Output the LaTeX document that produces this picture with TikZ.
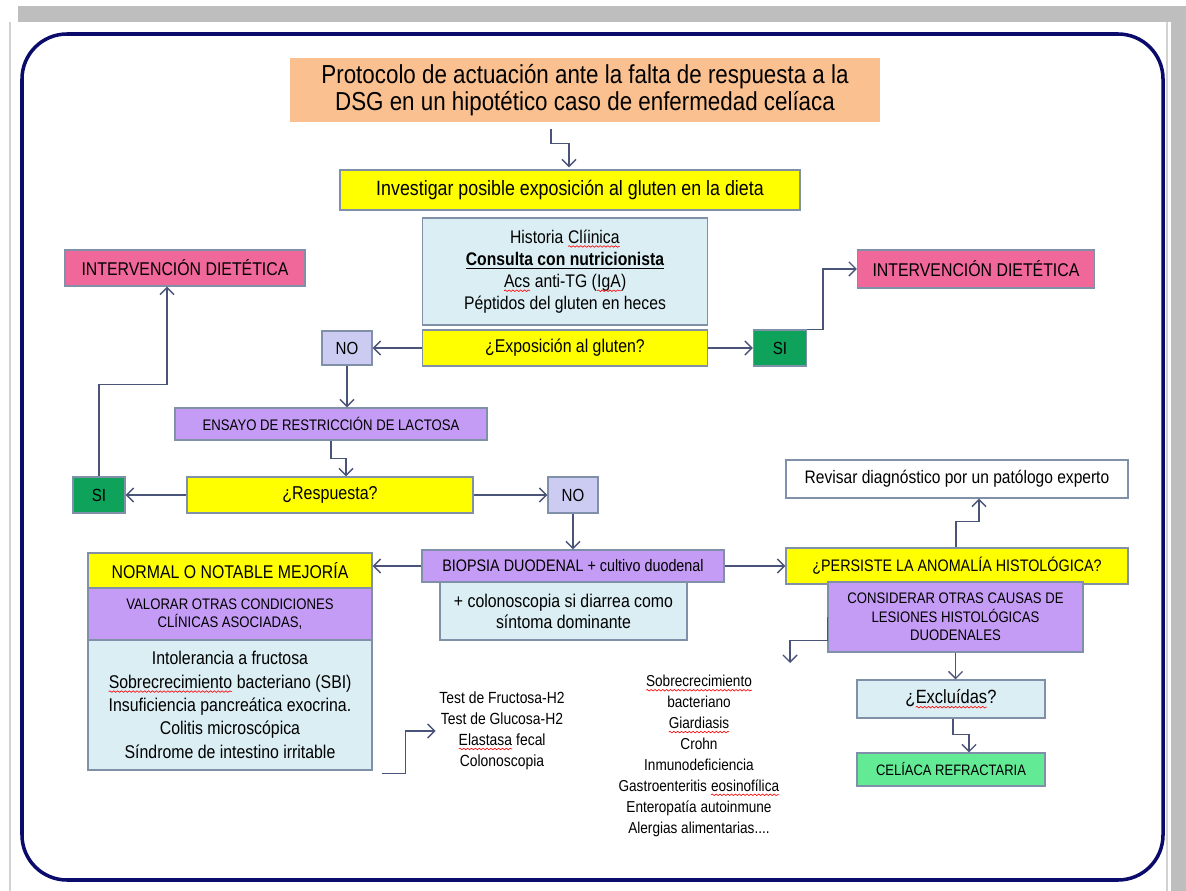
\documentclass[tikz,border=0pt]{standalone}
\usepackage{fontspec}
\setmainfont{Liberation Sans}[FakeStretch=0.86]
\usetikzlibrary{arrows.meta,calc,decorations.pathmorphing}
\newcommand\wv[1]{\tikz[baseline=(wvn.base)]{\node[inner sep=0pt,outer sep=0pt,draw=none,fill=none,minimum size=0pt](wvn){#1};\draw[red,line width=0.35pt,decorate,decoration={snake,amplitude=0.45pt,segment length=2.2pt}]([yshift=-1.9pt]wvn.base west)--([yshift=-1.9pt]wvn.base east);}}
\newcommand\fz[2]{\fontsize{#1}{#2}\selectfont}
\definecolor{peach}{HTML}{FAC090}
\definecolor{yel}{HTML}{FFFF00}
\definecolor{lblue}{HTML}{DAEEF3}
\definecolor{pinkc}{HTML}{F0679A}
\definecolor{lav}{HTML}{CCCCF2}
\definecolor{dgreen}{HTML}{0FA25A}
\definecolor{purp}{HTML}{C59CF5}
\definecolor{lgreen}{HTML}{62EA95}
\definecolor{bord}{HTML}{8090A8}
\definecolor{arrc}{HTML}{4A5378}
\definecolor{navy}{HTML}{0B0B6B}
\definecolor{gband}{HTML}{BEBEBE}
\tikzset{
  box/.style={draw=bord, line width=0.6pt, inner sep=0pt, align=center},
  wh/.style 2 args={minimum width=#1*0.02cm, minimum height=#2*0.02cm},
  arr/.style={draw=arrc, line width=0.8pt, -{Straight Barb[length=4pt,width=8pt]}},
  plain/.style={align=center, inner sep=2pt}
}
\begin{document}
\begin{tikzpicture}[x=0.02cm, y=-0.02cm]
\useasboundingbox (0,0) rectangle (1186,891);
\fill[white] (0,0) rectangle (1186,891);
% page background
\fill[gband] (18,6) rectangle (1186,22);
\fill[gband] (1171,22) rectangle (1186,891);
\draw[gray!35, line width=0.6pt] (10,22) -- (10,891);
\draw[gray!35, line width=0.6pt] (1167,22) -- (1167,891);
% frame
\draw[navy, line width=2pt, rounded corners=0.9cm] (22,34) rectangle (1163,880);

% nodes
\node[box, fill=peach, draw=none, wh={590}{64}, font=\fz{14.8}{15.5}] (title) at (585,90)
  {Protocolo de actuación ante la falta de respuesta a la\\DSG en un hipotético caso de enfermedad celíaca};
\node[box, fill=yel, wh={460}{40}, font=\fz{11.8}{13}] (inv) at (570,190)
  {Investigar posible exposición al gluten en la dieta};
\node[box, fill=lblue, wh={285}{107}, font=\fz{10.4}{12.6}] (hist) at (565,271.5)
  {Historia \wv{Clíinica}\\\underline{\textbf{Consulta con nutricionista}}\\\wv{Acs} anti-TG (\wv{IgA})\\Péptidos del gluten en heces};
\node[box, fill=yel, wh={285}{36}, font=\fz{10.5}{12}] (expo) at (565,348) {¿Exposición al gluten?};
\node[box, fill=lav, wh={50}{34}, font=\fz{10}{11}] (no1) at (347,348) {NO};
\node[box, fill=dgreen, wh={53}{36}, font=\fz{10}{11}] (si1) at (780,348) {SI};
\node[box, fill=pinkc, wh={240}{36}, font=\fz{10.5}{12}] (intL) at (185,268) {INTERVENCIÓN DIETÉTICA};
\node[box, fill=pinkc, wh={237}{38}, font=\fz{10.5}{12}] (intR) at (976,269) {INTERVENCIÓN DIETÉTICA};
\node[box, fill=purp, wh={312}{32}, font=\fz{8.7}{10}] (ens) at (331,424) {ENSAYO DE RESTRICCIÓN DE LACTOSA};
\node[box, fill=yel, wh={286}{36}, font=\fz{10.6}{12}] (resp) at (330,495) {¿Respuesta?};
\node[box, fill=dgreen, wh={52}{36}, font=\fz{10}{11}] (si2) at (99,495) {SI};
\node[box, fill=lav, wh={50}{36}, font=\fz{10}{11}] (no2) at (573,495) {NO};
\node[box, fill=purp, wh={302}{32}, font=\fz{9.5}{11}] (biop) at (573,566) {BIOPSIA DUODENAL + cultivo duodenal};
\node[box, fill=lblue, wh={247}{58}, font=\fz{10.5}{12}] (colo) at (563.5,611) {+ colonoscopia si diarrea como\\síntoma dominante};
\node[box, fill=yel, wh={284}{35}, font=\fz{10.5}{12}] (norm) at (230,570.5) {NORMAL O NOTABLE MEJORÍA};
\node[box, fill=purp, wh={284}{52}, font=\fz{8.7}{10.2}] (val) at (230,614) {VALORAR OTRAS CONDICIONES\\CLÍNICAS ASOCIADAS,};
\node[box, fill=lblue, wh={284}{130}, font=\fz{10.5}{13.3}] (list) at (230,705)
  {Intolerancia a fructosa\\\wv{Sobrecrecimiento} bacteriano (SBI)\\Insuficiencia pancreática exocrina.\\Colitis microscópica\\Síndrome de intestino irritable};
\node[plain, font=\fz{9.2}{11.9}] (tests) at (502,731)
  {Test de Fructosa-H2\\Test de Glucosa-H2\\\wv{Elastasa} fecal\\Colonoscopia};
\node[box, fill=white, wh={342}{38}, font=\fz{10.3}{12}] (rev) at (957,479) {Revisar diagnóstico por un patólogo experto};
\node[box, fill=yel, wh={342}{36}, font=\fz{9.5}{11}] (pers) at (957,566) {¿PERSISTE LA ANOMALÍA HISTOLÓGICA?};
\node[box, fill=purp, wh={255}{70}, font=\fz{8.7}{10.6}] (cons) at (955.5,617)
  {CONSIDERAR OTRAS CAUSAS DE\\LESIONES HISTOLÓGICAS\\DUODENALES};
\node[box, fill=lblue, wh={188}{38}, font=\fz{10.9}{12}] (excl) at (951,699) {¿\wv{Excluídas}?};
\node[box, fill=lgreen, wh={188}{33}, font=\fz{8.6}{10}] (cel) at (951,769.5) {CELÍACA REFRACTARIA};
\node[plain, font=\fz{9}{11.9}] (causes) at (699,756)
  {\wv{Sobrecrecimiento}\\bacteriano\\\wv{Giardiasis}\\Crohn\\Inmunodeficiencia\\Gastroenteritis \wv{eosinofílica}\\Enteropatía autoinmune\\Alergias alimentarias....};
\coordinate (cz) at (790,663);

% connectors
\draw[arr] ($(title.south)+(-34,6)$) -- ++(0,15) -| ($(inv.north)+(-1,-2)$);
\draw[arr] (expo.west) -- (expo.west -| no1.east);
\draw[arr] (expo.east) -- (expo.east -| si1.west);
\draw[arr] (si1.north east) -- ++(16,0) |- (intR.west);
\draw[arr] (no1.south) -- (no1.south |- ens.north);
\draw[arr] (ens.south) -- ++(0,18) -| ($(resp.north)+(16,0)$);
\draw[arr] (resp.west) -- (resp.west -| si2.east);
\draw[arr] (resp.east) -- (resp.east -| no2.west);
\draw[arr] (si2.north) -- ++(0,-92) -| ($(intL.south)+(-18,0)$);
\draw[arr] (no2.south) -- (no2.south |- biop.north);
\draw[arr] (biop.west) -- (biop.west -| norm.east);
\draw[arr] (biop.east) -- (biop.east -| pers.west);
\draw[arr] ($(pers.north)+(-1,0)$) -- ++(0,-26) -| ($(rev.south)+(22,0)$);
\draw[arr] (cons.south) -- (cons.south |- excl.north);
\draw[arr] ($(excl.south)+(2,0)$) -- ++(0,16) -| ($(cel.north)+(18,0)$);
\draw[arr] ($(list.south east)+(9,3)$) -- ++(24,0) |- (tests.west);
\draw[arr] (cons.west) -- ($(cons.south west)+(0,-12)$) -| (cz);
\end{tikzpicture}
\end{document}
